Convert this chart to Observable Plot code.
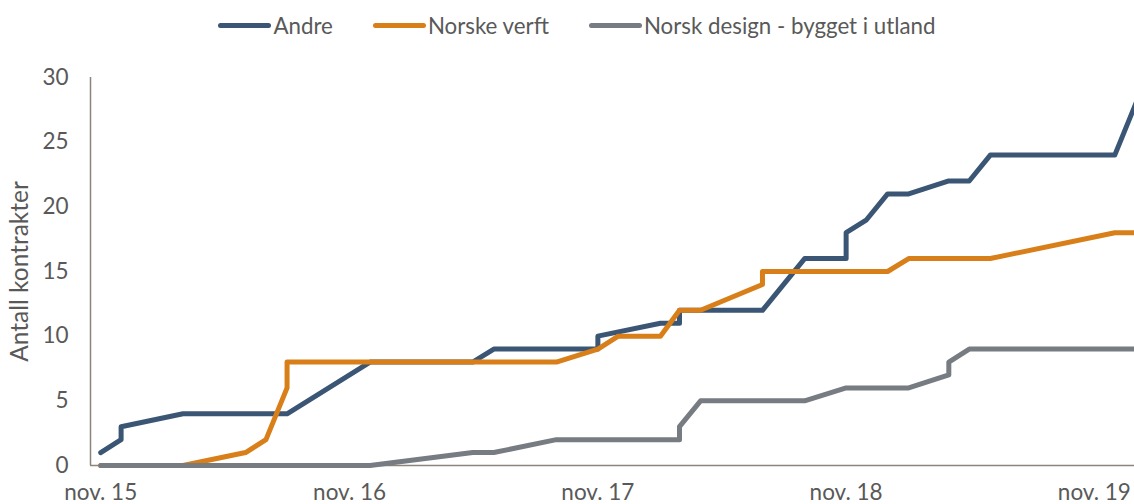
<!DOCTYPE html>
<html>
<head>
<meta charset="utf-8">
<script src="https://cdn.jsdelivr.net/npm/d3@7"></script>
<script src="https://cdn.jsdelivr.net/npm/@observablehq/plot@0.6"></script>
<style>
  html, body { margin: 0; padding: 0; background: #fff; }
  body { width: 1134px; height: 504px; overflow: hidden; font-family: Lato, "Open Sans", sans-serif; }
  #legend { height: 50px; display: flex; align-items: center; justify-content: center; padding-left: 20px; gap: 40px; color: #595959; font-size: 22.3px; }
  .item { display: flex; align-items: center; }
  .swatch { width: 53px; height: 5px; border-radius: 3px; margin-right: 2px; }
  #chart svg { display: block; }
</style>
</head>
<body>
<div id="legend"></div>
<div id="chart"></div>
<script>
// Series
const seriesNames = ["Andre", "Norske verft", "Norsk design - bygget i utland"];
const seriesColors = ["#3b5675", "#d97f1a", "#767c82"];

const andreMonths = ["2015-11","2015-12","2015-12","2016-03","2016-08","2016-12","2017-05","2017-06","2017-11","2017-11","2018-02","2018-03","2018-03","2018-07","2018-09","2018-11","2018-11","2018-12","2019-01","2019-02","2019-04","2019-05","2019-06","2019-12","2020-01"];
const andreValues = [1,2,3,4,4,8,8,9,9,10,11,11,12,12,16,16,18,19,21,21,22,22,24,24,28];

const verftMonths = ["2015-11","2016-03","2016-06","2016-07","2016-08","2016-08","2017-09","2017-11","2017-12","2018-02","2018-03","2018-04","2018-07","2018-07","2019-01","2019-02","2019-06","2019-12","2020-01"];
const verftValues = [0,0,1,2,6,8,8,9,10,10,12,12,14,15,15,16,16,18,18];

const designMonths = ["2015-11","2016-12","2017-05","2017-06","2017-09","2018-03","2018-03","2018-04","2018-09","2018-11","2019-02","2019-04","2019-04","2019-05","2020-01"];
const designValues = [0,0,1,1,2,2,3,5,5,6,6,7,8,9,9];

// Axes
const xTickMonths = ["2015-11","2016-11","2017-11","2018-11","2019-11"];
const xTickLabels = ["nov. 15","nov. 16","nov. 17","nov. 18","nov. 19"];
const yTicks = [0,5,10,15,20,25,30];
const yLabel = "Antall kontrakter";
const xStart = "2015-10-17";
const xEnd = "2019-12-30";

const parseM = d3.utcParse("%Y-%m");
const parseD = d3.utcParse("%Y-%m-%d");

const monthsList = [andreMonths, verftMonths, designMonths];
const valuesList = [andreValues, verftValues, designValues];
const rows = [];
seriesNames.forEach((name, i) => {
  monthsList[i].forEach((m, j) => rows.push({series: name, date: parseM(m), value: valuesList[i][j], order: j}));
});

const xTicks = xTickMonths.map(parseM);
const tickLabel = new Map(xTicks.map((d, i) => [+d, xTickLabels[i]]));

// Legend
const legend = document.getElementById("legend");
seriesNames.forEach((name, i) => {
  const it = document.createElement("div");
  it.className = "item";
  const sw = document.createElement("div");
  sw.className = "swatch";
  sw.style.background = seriesColors[i];
  const tx = document.createElement("span");
  tx.textContent = name;
  it.appendChild(sw); it.appendChild(tx);
  legend.appendChild(it);
});

const axisColor = "#8c857c";
const xDomain = [parseD(xStart), parseD(xEnd)];

const chart = Plot.plot({
  width: 1134,
  height: 454,
  marginTop: 27,
  marginBottom: 39,
  marginLeft: 90,
  marginRight: 0,
  style: {fontFamily: "Lato, 'Open Sans', sans-serif", fontSize: "22.5px", color: "#595959", background: "#fff"},
  x: {type: "utc", domain: xDomain},
  y: {domain: [0, 30]},
  color: {domain: seriesNames, range: seriesColors},
  marks: [
    Plot.axisX({ticks: xTicks, tickSize: 0, tickPadding: 19, tickFormat: d => tickLabel.get(+d), label: null, fill: "#595959", fontSize: 22.5}),
    Plot.axisY({ticks: yTicks, tickSize: 0, tickPadding: 22, label: null, fill: "#595959", fontSize: 22.5}),
    Plot.axisY({ticks: [], label: yLabel, labelAnchor: "center", labelArrow: "none", labelOffset: 80, fill: "#595959", fontSize: 24.5}),
    Plot.ruleY([0], {stroke: axisColor, strokeWidth: 1.5}),
    Plot.ruleX([xDomain[0]], {stroke: axisColor, strokeWidth: 1.5}),
    Plot.line(rows, {x: "date", y: "value", z: "series", stroke: "series", strokeWidth: 5, strokeLinejoin: "round", strokeLinecap: "round"})
  ]
});
document.getElementById("chart").appendChild(chart);
</script>
</body>
</html>
